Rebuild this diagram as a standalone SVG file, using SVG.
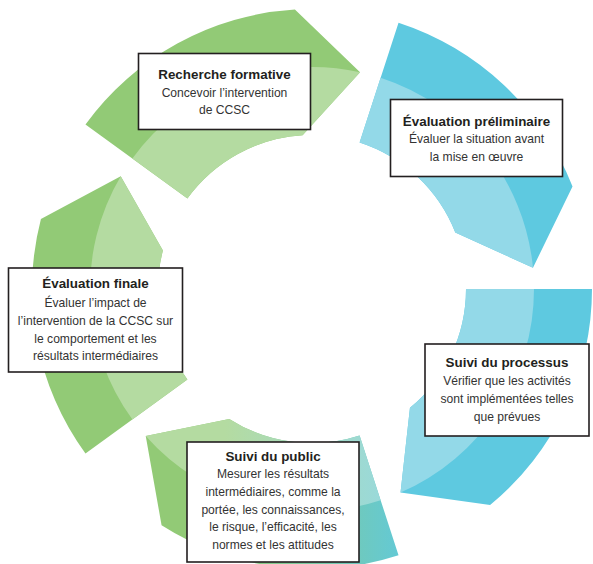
<svg xmlns="http://www.w3.org/2000/svg" width="593" height="564" viewBox="0 0 593 564">
<defs>
<linearGradient id="gDark" gradientUnits="userSpaceOnUse" x1="225" y1="0" x2="420" y2="0">
<stop offset="0" stop-color="#92ca76"/>
<stop offset="1" stop-color="#5ec9e0"/>
</linearGradient>
<linearGradient id="gLight" gradientUnits="userSpaceOnUse" x1="225" y1="0" x2="420" y2="0">
<stop offset="0" stop-color="#b4dba1"/>
<stop offset="1" stop-color="#93d9e8"/>
</linearGradient>
</defs>
<style>
.gd{fill:#92ca76}
.gl{fill:#b4dba1}
.bd{fill:#5ec9e0}
.bl{fill:#93d9e8}
.box{fill:#ffffff;stroke:#231f20;stroke-width:1.6}
.t{font-family:"Liberation Sans",Arial,sans-serif;font-weight:bold;font-size:13.4px;fill:#231f20;text-anchor:middle}
.b{font-family:"Liberation Sans",Arial,sans-serif;font-size:12.1px;fill:#333333;text-anchor:middle}
</style>
<rect width="593" height="564" fill="#ffffff"/>
<g id="connectors">
<!-- right segment (blue) -->
<path class="bd" d="M592,289 A280,280 0 0 1 490.10,505.05 L400.52,492.59 L409.96,407.83 A154,154 0 0 0 466,289 Z"/>
<path class="bl" d="M534,289 A222,222 0 0 1 400.52,492.59 L409.96,407.83 A154,154 0 0 0 466,289 Z"/>
<!-- bottom segment (gradient) -->
<path fill="url(#gDark)" d="M398.53,555.30 A280,280 0 0 1 161.56,525.15 L145.73,436.10 L229.26,418.88 A154,154 0 0 0 359.59,435.46 Z"/>
<path fill="url(#gLight)" d="M380.60,500.14 A222,222 0 0 1 145.73,436.10 L229.26,418.88 A154,154 0 0 0 359.59,435.46 Z"/>
<!-- left segment (green) -->
<path class="gd" d="M85.47,453.58 A280,280 0 0 1 40.92,218.89 L120.72,176.33 L162.90,250.44 A154,154 0 0 0 187.41,379.52 Z"/>
<path class="gl" d="M132.40,419.49 A222,222 0 0 1 120.72,176.33 L162.90,250.44 A154,154 0 0 0 187.41,379.52 Z"/>
<!-- top segment (green) -->
<path class="gd" d="M85.47,124.42 A280,280 0 0 1 294.91,9.52 L360.05,72.26 L302.60,135.29 A154,154 0 0 0 187.41,198.48 Z"/>
<path class="gl" d="M132.40,158.51 A222,222 0 0 1 360.05,72.26 L302.60,135.29 A154,154 0 0 0 187.41,198.48 Z"/>
<!-- top-right segment (blue) -->
<path class="bd" d="M398.53,22.70 A280,280 0 0 1 572.52,186.38 L532.98,267.72 L455.28,232.56 A154,154 0 0 0 359.59,142.54 Z"/>
<path class="bl" d="M380.60,77.86 A222,222 0 0 1 532.98,267.72 L455.28,232.56 A154,154 0 0 0 359.59,142.54 Z"/>
</g>
<g id="node-recherche">
<rect class="box" x="138.5" y="53.5" width="172" height="76"/>
<text class="t" x="224.5" y="79">Recherche formative</text>
<text class="b" x="224.5" y="96.6">Concevoir l’intervention</text>
<text class="b" x="224.5" y="114.2">de CCSC</text>
</g>
<g id="node-preliminaire">
<rect class="box" x="390.5" y="99.5" width="172" height="77"/>
<text class="t" x="476.5" y="125.5">Évaluation préliminaire</text>
<text class="b" x="476.5" y="143">Évaluer la situation avant</text>
<text class="b" x="476.5" y="160.5">la mise en œuvre</text>
</g>
<g id="node-processus">
<rect class="box" x="425" y="344" width="164" height="92"/>
<text class="t" x="507" y="367">Suivi du processus</text>
<text class="b" x="507" y="385">Vérifier que les activités</text>
<text class="b" x="507" y="403">sont implémentées telles</text>
<text class="b" x="507" y="421">que prévues</text>
</g>
<g id="node-public">
<rect class="box" x="187" y="442" width="172" height="120"/>
<text class="t" x="273" y="460.7">Suivi du public</text>
<text class="b" x="273" y="478.4">Mesurer les résultats</text>
<text class="b" x="273" y="496">intermédiaires, comme la</text>
<text class="b" x="273" y="513.6">portée, les connaissances,</text>
<text class="b" x="273" y="531.2">le risque, l’efficacité, les</text>
<text class="b" x="273" y="548.8">normes et les attitudes</text>
</g>
<g id="node-finale">
<rect class="box" x="8.5" y="268" width="174" height="104"/>
<text class="t" x="95.5" y="288.3">Évaluation finale</text>
<text class="b" x="95.5" y="306.5">Évaluer l’impact de</text>
<text class="b" x="95.5" y="324.5">l’intervention de la CCSC sur</text>
<text class="b" x="95.5" y="342.5">le comportement et les</text>
<text class="b" x="95.5" y="360.3">résultats intermédiaires</text>
</g>
</svg>
